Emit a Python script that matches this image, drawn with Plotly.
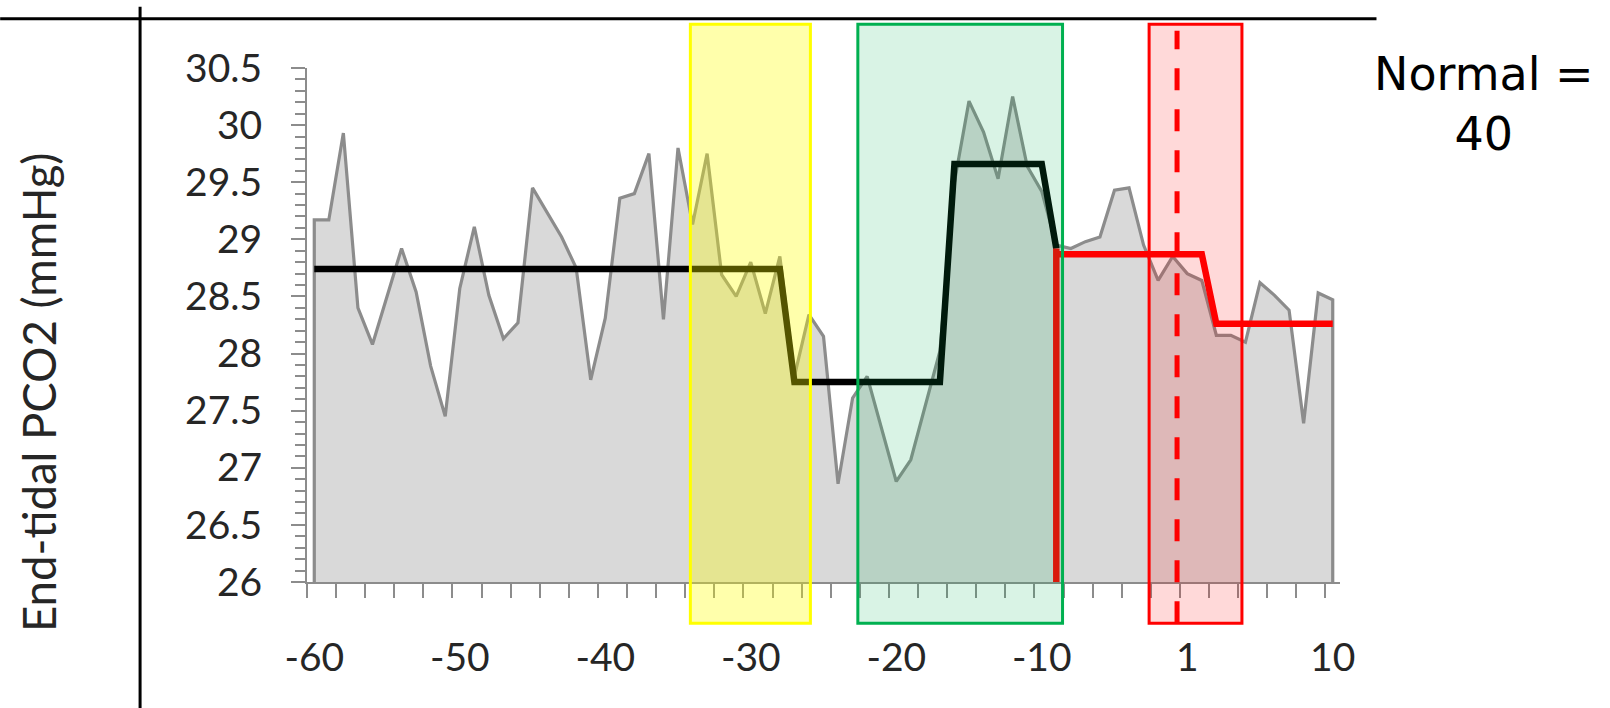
import plotly.graph_objects as go

# ---------------- data ----------------
times = list(range(-60, 11))
pco2 = [29.17, 29.17, 29.93, 28.40, 28.08, 28.50, 28.92, 28.54, 27.89, 27.45,
        28.57, 29.11, 28.51, 28.13, 28.27, 29.45, 29.24, 29.02, 28.75, 27.77,
        28.31, 29.36, 29.40, 29.75, 28.30, 29.80, 29.13, 29.75, 28.69, 28.50,
        28.80, 28.35, 28.85, 27.80, 28.34, 28.15, 26.86, 27.61, 27.80, 27.35,
        26.88, 27.07, 27.55, 28.02, 29.50, 30.21, 29.94, 29.53, 30.25, 29.64,
        29.42, 28.95, 28.92, 28.98, 29.02, 29.43, 29.45, 28.95, 28.64, 28.85,
        28.70, 28.64, 28.16, 28.16, 28.10, 28.62, 28.51, 28.38, 27.39, 28.53,
        28.47]

# step-fit (black) vertices
black_t = [-60, -28, -27, -17, -16, -10, -9]
black_v = [28.74, 28.74, 27.75, 27.75, 29.66, 29.66, 28.92]

# red vertical marker and red step-fit
red_vert_t = [-9, -9]
red_vert_v = [26.0, 28.92]
red_t = [-9, 1, 2, 10]
red_v = [28.87, 28.87, 28.26, 28.26]

# highlighted windows (time units)
yellow_win = [-34.15, -25.9]
green_win = [-22.64, -8.57]
red_win = [-2.62, 3.76]
dash_t = -0.7

tick_vals = [-60, -50, -40, -30, -20, -10, 0, 10]
tick_text = ["-60", "-50", "-40", "-30", "-20", "-10", "1", "10"]

y_min, y_max = 26.0, 30.5

# ---------------- layout geometry (pixels) ----------------
W, H = 1610, 708
L, R, T, B = 307, 1340.5, 68.3, 582


def px_x(p):
    return (p - L) / (R - L)


def px_y(p):
    return (B - p) / (B - T)


fig = go.Figure()

# area (closed outline including vertical edges)
area_x = [times[0]] + times + [times[-1]]
area_y = [y_min] + pco2 + [y_min]
fig.add_trace(go.Scatter(x=area_x, y=area_y, mode="lines", fill="toself",
                         fillcolor="#d9d9d9",
                         line=dict(color="#8c8c8c", width=3.2),
                         hoverinfo="skip"))

fig.add_trace(go.Scatter(x=black_t, y=black_v, mode="lines",
                         line=dict(color="black", width=6.5)))
fig.add_trace(go.Scatter(x=red_t, y=red_v, mode="lines",
                         line=dict(color="#ff0000", width=6.5)))
fig.add_trace(go.Scatter(x=red_vert_t, y=red_vert_v, mode="lines",
                         line=dict(color="#ff0000", width=6.5)))

top_p = px_y(24.6)
bot_p = px_y(623.3)

shapes = [
    dict(type="rect", xref="x", yref="paper", x0=yellow_win[0], x1=yellow_win[1],
         y0=bot_p, y1=top_p, fillcolor="rgba(255,255,0,0.33)",
         line=dict(color="#ffff00", width=3)),
    dict(type="rect", xref="x", yref="paper", x0=green_win[0], x1=green_win[1],
         y0=bot_p, y1=top_p, fillcolor="rgba(0,176,80,0.15)",
         line=dict(color="#00b050", width=3)),
    dict(type="rect", xref="x", yref="paper", x0=red_win[0], x1=red_win[1],
         y0=bot_p, y1=top_p, fillcolor="rgba(255,0,0,0.15)",
         line=dict(color="#ff0000", width=3)),
    dict(type="line", xref="x", yref="paper", x0=dash_t, x1=dash_t,
         y0=bot_p, y1=px_y(31),
         line=dict(color="#ff0000", width=5, dash="22px,19px")),
    # frame lines
    dict(type="line", xref="paper", yref="paper", x0=px_x(0), x1=px_x(1377),
         y0=px_y(19), y1=px_y(19), line=dict(color="black", width=3)),
    dict(type="line", xref="paper", yref="paper", x0=px_x(140), x1=px_x(140),
         y0=px_y(7), y1=px_y(708), line=dict(color="black", width=3)),
]

annotations = [
    dict(text="End-tidal PCO2 (mmHg)", xref="paper", yref="paper",
         x=px_x(39), y=px_y(393), textangle=-90, showarrow=False,
         xanchor="center", yanchor="middle",
         font=dict(family="Lato", size=45.5, color="#262626")),
    dict(text="Normal =<br>40", xref="paper", yref="paper",
         x=px_x(1485), y=px_y(104), showarrow=False, align="center",
         xanchor="center", yanchor="middle",
         font=dict(family="DejaVu Sans", size=46, color="black")),
]

fig.update_layout(
    width=W, height=H,
    margin=dict(l=L, r=W - R, t=T, b=H - B, pad=0),
    plot_bgcolor="white", paper_bgcolor="white",
    showlegend=False,
    shapes=shapes, annotations=annotations,
    xaxis=dict(range=[-60.5, 10.5], tickmode="array", tickvals=tick_vals,
               ticktext=tick_text, ticks="", showgrid=False, zeroline=False,
               showline=True, linecolor="#8c8c8c", linewidth=2,
               tickfont=dict(family="Lato", size=39, color="#262626"),
               ticklabelstandoff=40,
               minor=dict(ticks="outside", tickmode="linear", tick0=-60.5, dtick=2,
                          ticklen=14, tickwidth=2, tickcolor="#8c8c8c", showgrid=False)),
    yaxis=dict(range=[y_min, y_max], tickmode="linear", tick0=26, dtick=0.5,
               ticks="outside", ticklen=14, tickwidth=2, tickcolor="#8c8c8c",
               showgrid=False, zeroline=False, showline=True,
               linecolor="#8c8c8c", linewidth=2,
               tickfont=dict(family="Lato", size=39, color="#262626"),
               ticklabelstandoff=21,
               minor=dict(ticks="outside", dtick=0.1, ticklen=10, tickwidth=2,
                          tickcolor="#8c8c8c", showgrid=False)),
)

fig.write_html("out.html")
